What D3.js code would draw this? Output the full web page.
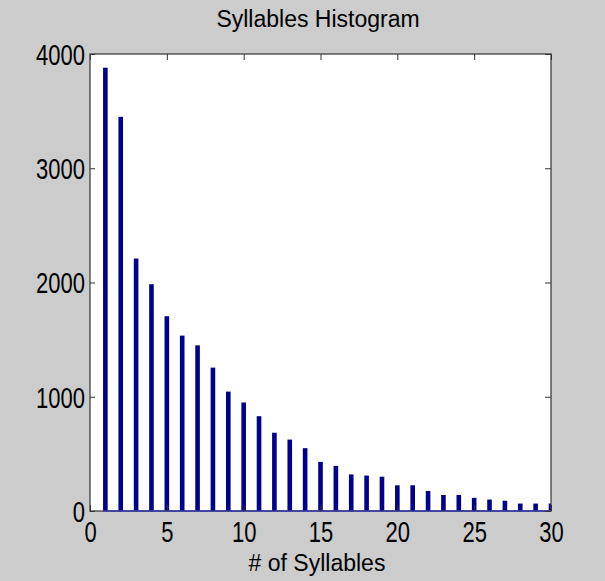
<!DOCTYPE html>
<html>
<head>
<meta charset="utf-8">
<script src="https://cdn.jsdelivr.net/npm/d3@7"></script>
<style>
  body { margin: 0; background: #cccccc; }
  svg { display: block; }
</style>
</head>
<body>
<svg id="chart" width="605" height="581"></svg>
<script>
// Data
const syllables = [1, 2, 3, 4, 5, 6, 7, 8, 9, 10, 11, 12, 13, 14, 15,
  16, 17, 18, 19, 20, 21, 22, 23, 24, 25, 26, 27, 28, 29, 30];
const counts = [3880, 3450, 2210, 1985, 1705, 1535, 1450, 1255, 1045, 950,
  830, 685, 625, 550, 430, 395, 320, 310, 300, 225,
  225, 175, 140, 140, 115, 100, 90, 65, 65, 65];
const xTicks = [0, 5, 10, 15, 20, 25, 30];
const yTicks = [0, 1000, 2000, 3000, 4000];

const width = 605;
const height = 581;
const plot = { left: 90, right: 551, top: 54, bottom: 511 };
const font = "'Liberation Sans', Arial, sans-serif";

const svg = d3.select("#chart");

svg.append("rect")
  .attr("width", width)
  .attr("height", height)
  .attr("fill", "#cccccc");

const x = d3.scaleLinear().domain([0, 30]).range([plot.left, plot.right]);
const y = d3.scaleLinear().domain([0, 4000]).range([plot.bottom, plot.top]);
const barWidth = (x(1) - x(0)) * 0.3;

// Plot area
svg.append("rect")
  .attr("x", plot.left)
  .attr("y", plot.top)
  .attr("width", plot.right - plot.left)
  .attr("height", plot.bottom - plot.top)
  .attr("fill", "#ffffff");

svg.append("clipPath")
  .attr("id", "clip")
  .append("rect")
  .attr("x", plot.left)
  .attr("y", plot.top)
  .attr("width", plot.right - plot.left)
  .attr("height", plot.bottom - plot.top + 2);

// Bars
const data = syllables.map((s, i) => ({ s, v: counts[i] }));
svg.append("g")
  .attr("clip-path", "url(#clip)")
  .selectAll("rect")
  .data(data)
  .enter()
  .append("rect")
  .attr("x", d => x(d.s) - barWidth / 2)
  .attr("y", d => y(d.v))
  .attr("width", barWidth)
  .attr("height", d => y(0) - y(d.v))
  .attr("fill", "#00008c");

// Box
svg.append("rect")
  .attr("x", plot.left)
  .attr("y", plot.top)
  .attr("width", plot.right - plot.left)
  .attr("height", plot.bottom - plot.top)
  .attr("fill", "none")
  .attr("stroke", "#333333")
  .attr("stroke-width", 1.2);

// Bar baseline
svg.append("line")
  .attr("x1", x(1) - barWidth / 2)
  .attr("x2", x(30))
  .attr("y1", y(0))
  .attr("y2", y(0))
  .attr("stroke", "#3434b0")
  .attr("stroke-width", 1.6);

// Axes
function styleAxis(g) {
  g.attr("font-family", font).attr("font-size", 22);
  g.select(".domain").remove();
  g.selectAll(".tick line").attr("stroke", "#333333");
}

const xAxis = svg.append("g")
  .attr("transform", `translate(0,${plot.bottom})`)
  .call(d3.axisBottom(x).tickValues(xTicks).tickSize(-6).tickSizeOuter(0));
styleAxis(xAxis);
xAxis.selectAll(".tick text")
  .attr("y", 0)
  .attr("dy", null)
  .attr("fill", "#000")
  .attr("transform", "translate(0,31) scale(1,1.3)");

svg.append("g")
  .attr("transform", `translate(0,${plot.top})`)
  .call(d3.axisTop(x).tickValues(xTicks).tickSize(-6).tickSizeOuter(0).tickFormat(""))
  .call(styleAxis);

const yAxis = svg.append("g")
  .attr("transform", `translate(${plot.left},0)`)
  .call(d3.axisLeft(y).tickValues(yTicks).tickSize(-5).tickSizeOuter(0).tickFormat(d3.format("d")));
styleAxis(yAxis);
yAxis.selectAll(".tick text")
  .attr("x", -5)
  .attr("dy", null)
  .attr("fill", "#000")
  .attr("transform", "translate(0,10.25) scale(1,1.3)");

svg.append("g")
  .attr("transform", `translate(${plot.right},0)`)
  .call(d3.axisRight(y).tickValues(yTicks).tickSize(-6).tickSizeOuter(0).tickFormat(""))
  .call(styleAxis);

// Title and label
svg.append("text")
  .attr("x", 318)
  .attr("y", 27)
  .attr("text-anchor", "middle")
  .attr("font-family", font)
  .attr("font-size", 23)
  .text("Syllables Histogram");

svg.append("text")
  .attr("x", 317)
  .attr("y", 571)
  .attr("text-anchor", "middle")
  .attr("font-family", font)
  .attr("font-size", 23)
  .text("# of Syllables");
</script>
</body>
</html>
